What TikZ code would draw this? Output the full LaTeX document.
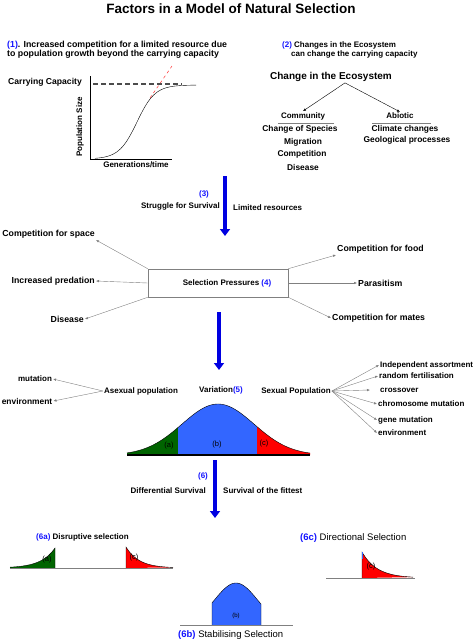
\documentclass[tikz,border=0pt]{standalone}
\usepackage{fontspec}
\setmainfont{Liberation Sans}
\usetikzlibrary{arrows.meta}
\definecolor{numblue}{RGB}{20,20,255}
\definecolor{arrblue}{RGB}{0,0,225}
\definecolor{tailgreen}{RGB}{0,100,0}
\definecolor{midblue}{RGB}{51,102,255}
\definecolor{tailred}{RGB}{255,0,0}
\newcommand{\stagenum}[1]{\textcolor{numblue}{#1}}
\begin{document}
\begin{tikzpicture}[x=1pt,y=-1pt,font=\bfseries\fontsize{8}{9}\selectfont,inner sep=1pt,
	bigarrow/.style={arrblue,line width=4.5pt,-{Triangle[width=10pt,length=7pt]}},
	thinarrow/.style={gray,line width=0.4pt,-{Latex[length=3pt,width=2.5pt]}},
	plabel/.style={font=\bfseries\fontsize{8.75}{10}\selectfont},
	tag/.style={font=\mdseries\fontsize{7.5}{8}\selectfont},
	curve/.style={black,line width=0.4pt}]
\useasboundingbox (0,0) rectangle (476,640);
\node[font=\bfseries\fontsize{13.5}{16}\selectfont] at (231,9) (title) {Factors in a Model of Natural Selection};
\node[anchor=north west,align=left,font=\bfseries\fontsize{8.8}{9}\selectfont] at (6,40) (cause1) {\stagenum{(1)}. Increased competition for a limited resource due\\to population growth beyond the carrying capacity};
\node[anchor=north west,align=left] at (281,41) (cause2) {\stagenum{(2)} Changes in the Ecosystem\\\hspace*{9pt}can change the carrying capacity};
\draw (90,76) -- (90,159) -- (172,159);
\draw[gray!60!black,line width=1.2pt,dash pattern=on 5pt off 3pt] (93,84) -- (182,84);
\draw[curve] plot[domain=95:196,samples=60] (\x,{159-74/(1+exp(-(\x-137)/9))});
\draw[red!80,dashed,line width=0.5pt] (150,98) -- (172,66);
\node[anchor=west,font=\bfseries\fontsize{8.6}{9}\selectfont] at (7,82) (cap) {Carrying Capacity};
\node[rotate=90] at (80,127) (popsize) {Population Size};
\node at (136,165) (gens) {Generations/time};
\node[font=\bfseries\fontsize{10}{12}\selectfont] at (331,77) (eco) {Change in the Ecosystem};
\node at (303,116) (comm) {Community};
\node at (400,116) (abio) {Abiotic};
\draw[thinarrow,black] ([xshift=14pt]eco.south) -- (comm.north);
\draw[thinarrow,black] ([xshift=14pt]eco.south) -- (abio.north);
\draw[gray] (278,123) -- (334,123);
\draw[gray] (372,123) -- (431,123);
\foreach \nm/\txt/\px/\py in {spec/Change of Species/300/129,migr/Migration/303/142,comp/Competition/302/154,dise/Disease/303/167,clim/Climate changes/405/129,geol/Geological processes/407/140}
{
	\node[font=\bfseries\fontsize{8.4}{9}\selectfont] at (\px,\py) (\nm) {\txt};
}
\coordinate (s3top) at (225,176);
\coordinate (s3end) at (225,236);
\draw[bigarrow] (s3top) -- (s3end);
\node[text=numblue] at (204,194) (n3) {(3)};
\node[anchor=east] at (221,206) (strug) {Struggle for Survival};
\node[anchor=west] at (232,208) (limres) {Limited resources};
\node[draw=gray,line width=0.6pt,minimum width=140pt,minimum height=28pt] at (218,283) (press) {\hspace*{18pt}Selection Pressures \stagenum{(4)}};
\foreach \nm/\txt/\px/\py/\anc/\side in {cspace/Competition for space/96/240/south east/north west,pred/Increased predation/96/281/east/west,pdis/Disease/85/319/east/south west,cfood/Competition for food/336/255/south west/north east,para/Parasitism/357/283/west/east,cmate/Competition for mates/331/318/west/south east}
{
	\node[plabel,anchor=\anc] at (\px,\py) (\nm) {\txt};
	\draw[thinarrow] (press.\side) -- (\nm.\anc);
}
\coordinate (s5top) at (219,312);
\coordinate (s5end) at (219,370);
\draw[bigarrow] (s5top) -- (s5end);
\node at (141,391) (asex) {Asexual population};
\node at (35,379) (amut) {mutation};
\node[font=\bfseries\fontsize{8.4}{9}\selectfont] at (27,401) (aenv) {environment};
\draw[thinarrow] (asex.west) -- (amut.east);
\draw[thinarrow] (asex.west) -- (aenv.east);
\node at (221,390) (var) {Variation\stagenum{(5)}};
\node at (296,391) (sexp) {Sexual Population};
\foreach \nm/\txt/\px/\py in {indep/Independent assortment/379/365,rfert/random fertilisation/378/376,cross/\hspace*{9pt}crossover/370/390,chrom/chromosome mutation/377/404,gmut/gene mutation/377/420,senv/environment/377/433}
{
	\node[anchor=west] at (\px,\py) (\nm) {\txt};
	\draw[thinarrow] (sexp.east) -- (\nm.west);
}
\fill[tailgreen] (127,455) -- plot[domain=127:178,samples=30] (\x,{455-51*exp(-((\x-218)*(\x-218))/2592)}) -- (178,455) -- cycle;
\fill[midblue] (178,455) -- plot[domain=178:257,samples=40] (\x,{455-51*exp(-((\x-218)*(\x-218))/2592)}) -- (257,455) -- cycle;
\fill[tailred] (257,455) -- plot[domain=257:310,samples=30] (\x,{455-51*exp(-((\x-218)*(\x-218))/2592)}) -- (310,455) -- cycle;
\draw[curve] plot[domain=127:310,samples=90] (\x,{455-51*exp(-((\x-218)*(\x-218))/2592)});
\draw[line width=1.2pt] (127,455) -- (310,455);
\node[tag] at (169,446) (ta) {(a)};
\node[tag] at (217,445) (tb) {(b)};
\node[tag] at (264,444) (tc) {(c)};
\coordinate (s6top) at (215,460);
\coordinate (s6end) at (215,518);
\draw[bigarrow] (s6top) -- (s6end);
\node[text=numblue] at (203,476) (n6) {(6)};
\node[anchor=east] at (207,491) (diff) {Differential Survival};
\node[anchor=west] at (222,491) (fit) {Survival of the fittest};
\node[anchor=west] at (35,537) (sel6a) {\stagenum{(6a)} {\fontsize{8}{9}\selectfont Disruptive selection}};
\fill[tailgreen] (10,568) -- plot[domain=10:55,samples=30] (\x,{568-20*exp((\x-55)/14)}) -- (55,568) -- cycle;
\fill[tailred] (126,568) -- plot[domain=126:173,samples=30] (\x,{568-21*exp(-(\x-126)/13)}) -- cycle;
\draw[curve] plot[domain=10:55,samples=30] (\x,{568-20*exp((\x-55)/14)}) -- (55,568);
\draw[curve] (126,568) -- plot[domain=126:173,samples=30] (\x,{568-21*exp(-(\x-126)/13)});
\draw[gray] (10,568) -- (173,568);
\node[tag] at (47,560) (da) {(a)};
\node[tag] at (134,558) (dc) {(c)};
\node[anchor=west,font=\mdseries\fontsize{9.5}{11}\selectfont] at (299,538) (sel6c) {\textbf{\stagenum{(6c)}} Directional Selection};
\fill[tailred] (362,578) -- plot[domain=362:413,samples=30] (\x,{578-26*exp(-(\x-362)/15)}) -- cycle;
\draw[curve] (362,578) -- plot[domain=362:413,samples=30] (\x,{578-26*exp(-(\x-362)/15)});
\draw[gray] (326,578) -- (415,578);
\draw[midblue,line width=1pt] (362,552) -- (362,559);
\node[tag] at (371,567) (rc) {(c)};
\fill[midblue] (212,625) -- plot[domain=212:261,samples=40] (\x,{625-42*exp(-((\x-236)*(\x-236))/900)}) -- (261,625) -- cycle;
\draw[curve] (212,625) -- plot[domain=212:261,samples=40] (\x,{625-42*exp(-((\x-236)*(\x-236))/900)}) -- (261,625);
\draw[gray] (180,625) -- (293,625);
\node[tag,font=\mdseries\fontsize{6}{7}\selectfont] at (236,616) (sb) {(b)};
\node[anchor=west,font=\mdseries\fontsize{9.5}{11}\selectfont] at (177,635) (sel6b) {\textbf{\stagenum{(6b)}} Stabilising Selection};
\end{tikzpicture}
\end{document}
